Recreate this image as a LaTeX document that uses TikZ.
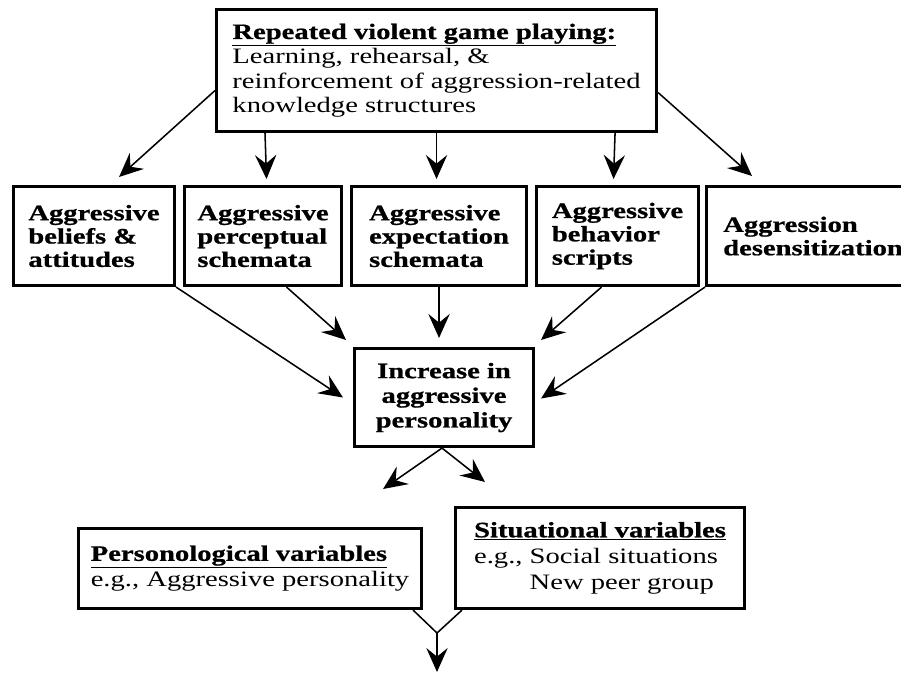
\documentclass[tikz,border=0pt]{standalone}
\usepackage{fontspec}
\setmainfont{Liberation Serif}[FakeStretch=1.3, BoldFeatures={FakeBold=0.8}]
\usetikzlibrary{arrows.meta,calc}

\tikzset{
    kasten/.style={draw, line width=2.3pt, anchor=north west, inner sep=0pt},
    fett/.style={font=\fontsize{16.5}{17.5}\selectfont\bfseries},
    pfeil/.style={line width=1.15pt, -{Stealth[length=18pt,width=16pt,inset=6.5pt]}},
}

\begin{document}
\begin{tikzpicture}[x=0.75pt,y=-0.75pt]
        \def\px{0.75pt}
        \useasboundingbox (0,0) rectangle (901,683);
        \fill[white] (0,0) rectangle (901,683);

        % oben
        \node[kasten, align=left, minimum width=440*\px, minimum height=122*\px, font=\fontsize{16.5}{18.4}\selectfont] (spielen) at (215,8) {\textbf{\underline{Repeated violent game playing:}}\\Learning, rehearsal, \&\\reinforcement of aggression-related\\knowledge structures};

        % Reihe
        \node[kasten, fett, align=left, minimum width=161*\px, minimum height=99*\px] (einstellung) at (12,185) {Aggressive\\beliefs \&\\attitudes};
        \node[kasten, fett, align=left, minimum width=157*\px, minimum height=99*\px] (wahrnehmung) at (183,185) {Aggressive\\perceptual\\schemata};
        \node[kasten, fett, align=left, minimum width=175*\px, minimum height=99*\px] (erwartung) at (350,185) {Aggressive\\expectation\\schemata};
        \node[kasten, fett, align=left, minimum width=162*\px, minimum height=99*\px] (skripte) at (535,185) {Aggressive\\behavior\\scripts};
        \node[kasten, fett, align=left, minimum width=213*\px, minimum height=99*\px] (desensib) at (705,185) {Aggression\\desensitization};

        % Mitte
        \node[kasten, fett, align=center, minimum width=179*\px, minimum height=98*\px, font=\fontsize{16.5}{18.5}\selectfont\bfseries] (persoenlichkeit) at (353,347) {Increase in\\aggressive\\personality};

        % unten
        \node[kasten, align=left, minimum width=343*\px, minimum height=80*\px, font=\fontsize{16.5}{19.5}\selectfont] (personvar) at (77,527) {\textbf{\underline{Personological variables}}\\e.g., Aggressive personality};
        \node[kasten, align=left, minimum width=289*\px, minimum height=101*\px, font=\fontsize{16.5}{19.5}\selectfont] (situationvar) at (454,506) {\textbf{\underline{Situational variables}}\\e.g., Social situations\\\phantom{e.g., }New peer group};

        \coordinate (knoten) at (437,633);
        \coordinate (ende) at (437,672);

        % Pfeile oben
        \draw[pfeil] ($(spielen.west)+(0,20)$) -- ($(einstellung.north)+(25,-8)$);
        \draw[pfeil] ($(spielen.south west)+(50,0)$) -- ($(wahrnehmung.north)+(3.5,-6)$);
        \draw[pfeil] (spielen.south) -- ($(erwartung.north)+(-2.5,-6)$);
        \draw[pfeil] ($(spielen.south east)+(-43,0)$) -- ($(skripte.north)+(-4,-6)$);
        \draw[pfeil] ($(spielen.east)+(0,22)$) -- ($(desensib.north west)+(47,-9)$);

        % Pfeile zur Mitte
        \draw[pfeil] (einstellung.south east) -- ($(persoenlichkeit.west)+(-10,0)$);
        \draw[pfeil] ($(wahrnehmung.south)+(23.5,0)$) -- ($(persoenlichkeit.north west)+(-7,-7)$);
        \draw[pfeil] (erwartung.south) -- ($(persoenlichkeit.north)+(-5,-9)$);
        \draw[pfeil] ($(skripte.south)+(-16,0)$) -- ($(persoenlichkeit.north east)+(6,-7)$);
        \draw[pfeil] (desensib.south west) -- ($(persoenlichkeit.east)+(6,1)$);

        % Pfeile nach unten
        \draw[pfeil] ($(persoenlichkeit.south)+(-2,0)$) -- ($(personvar.north east)+(-40,-38)$);
        \draw[pfeil] ($(persoenlichkeit.south)+(-2,0)$) -- ($(situationvar.north west)+(31,-24)$);

        \draw[line width=1.15pt] ($(personvar.south east)+(-10,0)$) -- (knoten) -- ($(situationvar.south west)+(8,0)$);
        \draw[pfeil] (knoten) -- (ende);
\end{tikzpicture}
\end{document}
